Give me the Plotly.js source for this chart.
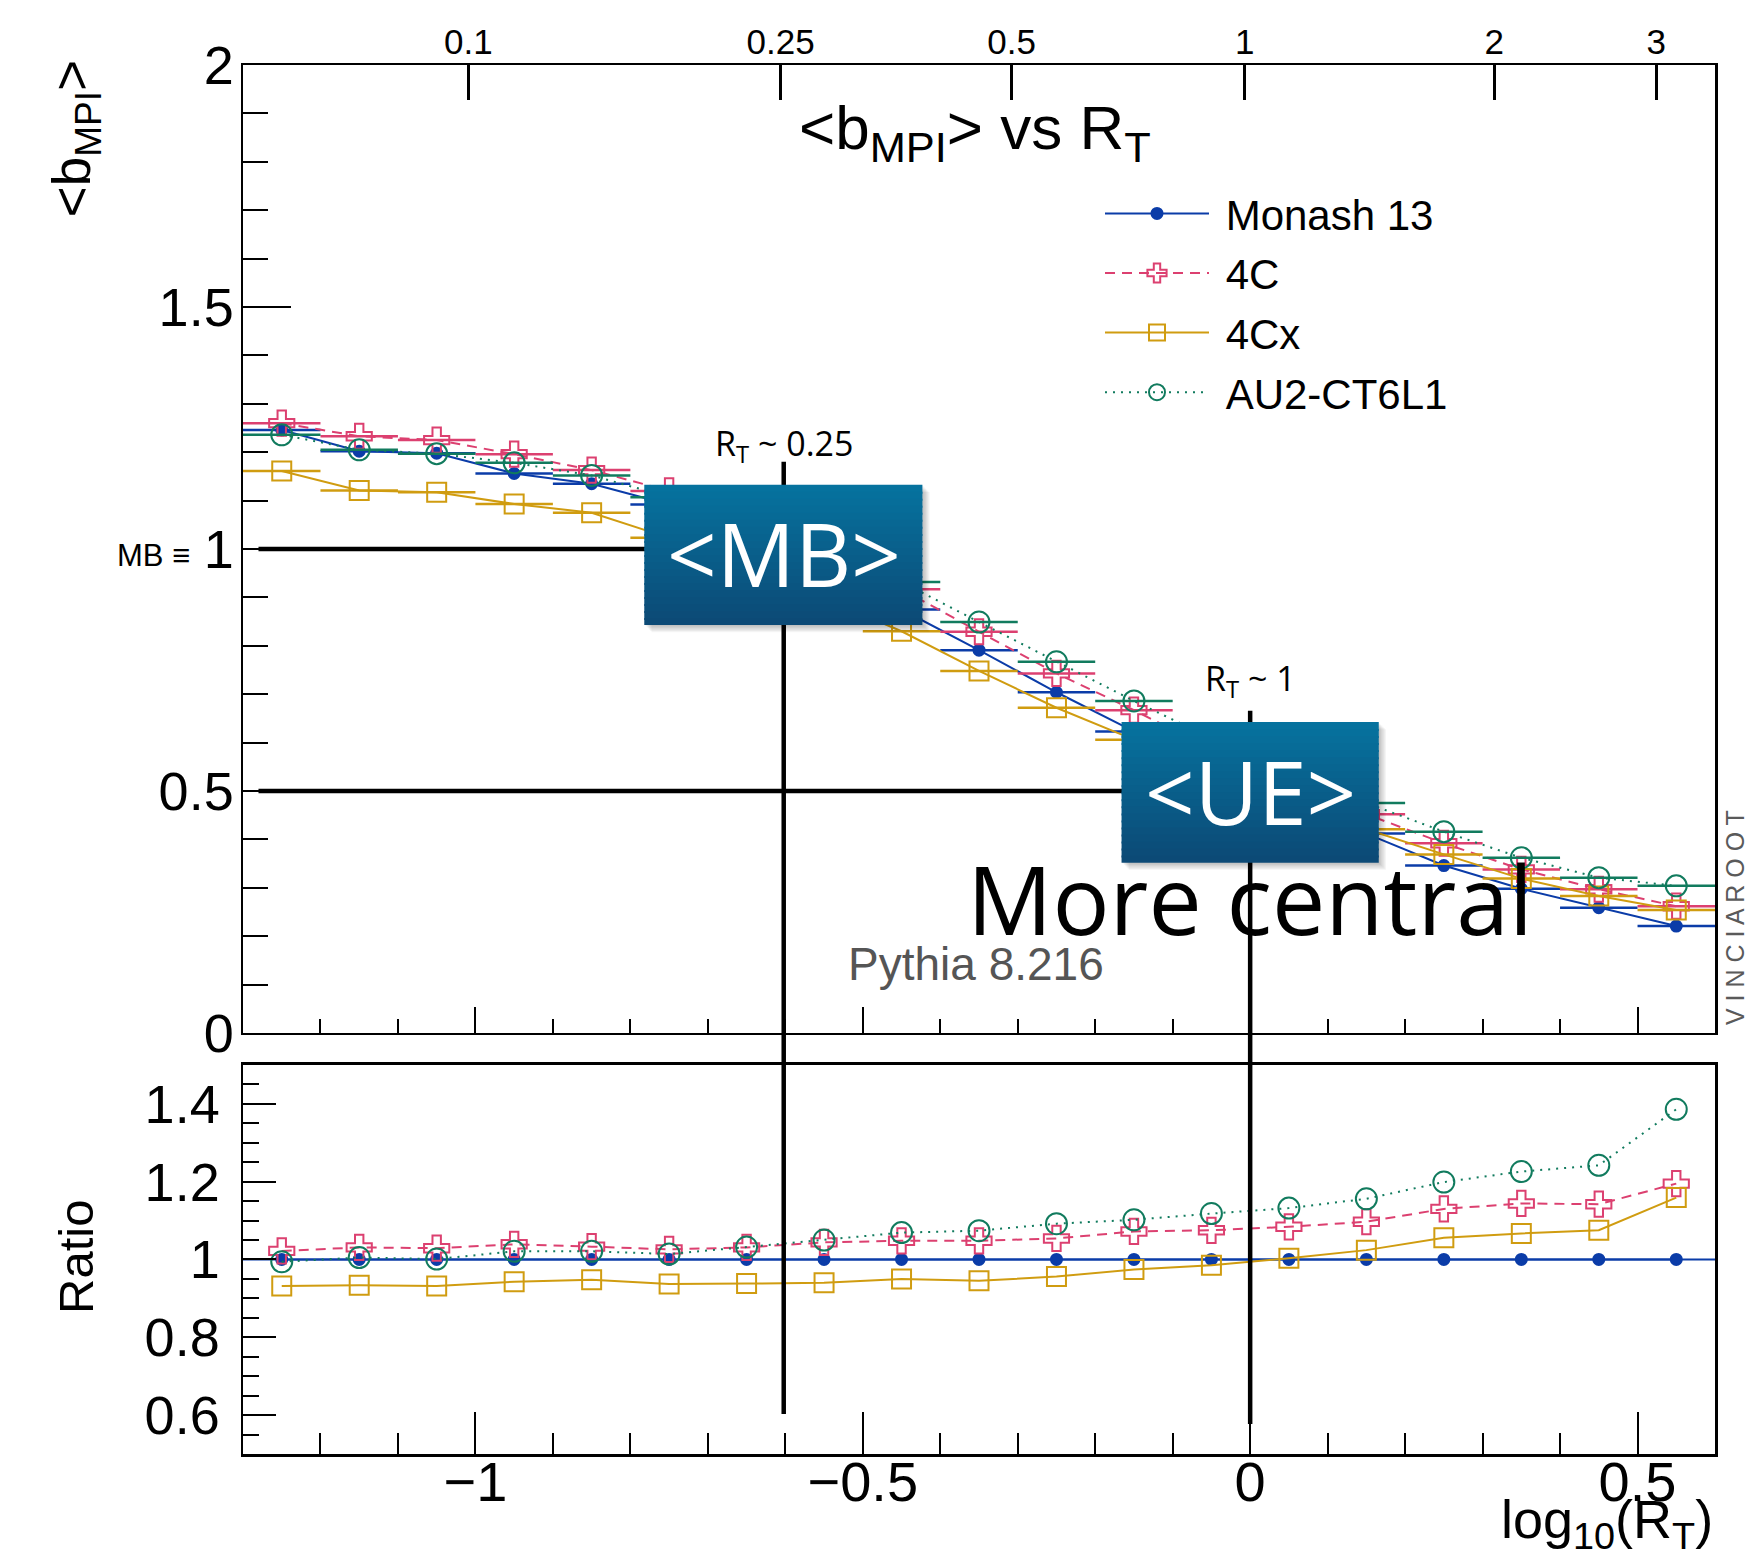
<!DOCTYPE html>
<html>
<head>
<meta charset="utf-8">
<script src="https://cdn.plot.ly/plotly-3.0.1.min.js"></script>
<style>
  html, body { margin: 0; padding: 0; background: #ffffff; }
  #chart { width: 1763px; height: 1556px; }
</style>
</head>
<body>
<div id="chart"></div>
<script>
// ---------------- data ----------------
const rtBinCenters = [-1.25, -1.15, -1.05, -0.95, -0.85, -0.75, -0.65, -0.55, -0.45, -0.35,
                      -0.25, -0.15, -0.05, 0.05, 0.15, 0.25, 0.35, 0.45, 0.55];
const binHalfWidth = 0.05;

const bMonash = [1.246, 1.202, 1.198, 1.156, 1.135, 1.092, 1.030, 0.955, 0.875, 0.791,
                 0.704, 0.623, 0.545, 0.475, 0.412, 0.346, 0.298, 0.259, 0.221];
const b4C     = [1.260, 1.233, 1.225, 1.196, 1.163, 1.120, 1.062, 0.997, 0.917, 0.829,
                 0.743, 0.667, 0.586, 0.515, 0.452, 0.392, 0.338, 0.297, 0.262];
const b4Cx    = [1.161, 1.121, 1.117, 1.093, 1.075, 1.023, 0.966, 0.898, 0.830, 0.748,
                 0.672, 0.606, 0.537, 0.476, 0.421, 0.369, 0.319, 0.283, 0.254];
const bAU2    = [1.236, 1.205, 1.197, 1.178, 1.152, 1.107, 1.063, 1.003, 0.932, 0.849,
                 0.767, 0.686, 0.609, 0.538, 0.475, 0.416, 0.362, 0.321, 0.304];

const ratioMonash = [1, 1, 1, 1, 1, 1, 1, 1, 1, 1, 1, 1, 1, 1, 1, 1, 1, 1, 1];
const ratio4C     = [1.022, 1.031, 1.029, 1.039, 1.033, 1.026, 1.031, 1.044, 1.048, 1.048,
                     1.054, 1.072, 1.075, 1.084, 1.097, 1.130, 1.144, 1.142, 1.195];
const ratio4Cx    = [0.932, 0.934, 0.932, 0.943, 0.948, 0.937, 0.938, 0.940, 0.950, 0.945,
                     0.956, 0.974, 0.985, 1.003, 1.024, 1.056, 1.067, 1.075, 1.159];
const ratioAU2    = [0.994, 1.005, 1.001, 1.021, 1.021, 1.014, 1.032, 1.050, 1.069, 1.074,
                     1.092, 1.102, 1.118, 1.132, 1.156, 1.199, 1.226, 1.242, 1.386];

const seriesNames = ['Monash 13', '4C', '4Cx', 'AU2-CT6L1'];

// secondary (top) axis: R_T labels and where they sit on the log10(R_T) axis
const topTickLabels = ['0.1', '0.25', '0.5', '1', '2', '3'];
const topTickPos    = [-1.009, -0.606, -0.308, -0.007, 0.315, 0.524];

// reference R_T values marked with vertical lines
const refRT = [0.25, 1];

// ---------------- styling ----------------
const FONT = 'Liberation Sans, Arial, Helvetica, sans-serif';
const SOFT = 'Open Sans, Noto Sans, sans-serif';
const cBlue = '#0b3ca8', cPink = '#dc4070', cGold = '#d09c10', cGreen = '#117b5e';

const xRange = [-1.3, 0.6];
const yRangeTop = [0, 2];
const yRangeRatio = [0.5, 1.5];
const W = 1763, H = 1556;
const M = {l: 243, r: 48, t: 65, b: 102};
const plotW = W - M.l - M.r, plotH = H - M.t - M.b;
const topDomain = [0.3031, 1], ratioDomain = [0, 0.2801];

const styles = [
  {color: cBlue, dash: 'solid', symbol: 'circle', size: 11, group: 'g1'},
  {color: cPink, dash: '10px,7px', symbol: 'cross-open', size: 21, group: 'g2'},
  {color: cGold, dash: 'solid', symbol: 'square-open', size: 19, group: 'g3'},
  {color: cGreen, dash: '2px,6px', symbol: 'circle-open', size: 21, group: 'g4'}
];
const topSeries = [bMonash, b4C, b4Cx, bAU2];
const ratioSeries = [ratioMonash, ratio4C, ratio4Cx, ratioAU2];

const traces = [];
topSeries.forEach((ys, i) => {
  const s = styles[i];
  traces.push({
    type: 'scatter', mode: 'lines+markers', name: '\u00A0' + seriesNames[i],
    x: rtBinCenters, y: ys, xaxis: 'x', yaxis: 'y',
    legendgroup: s.group,
    line: {color: s.color, width: 2, dash: s.dash},
    marker: {symbol: s.symbol, size: s.size, color: s.color, line: {color: s.color, width: 2}},
    error_x: {type: 'constant', value: binHalfWidth, width: 0, thickness: 2.5, color: s.color},
    hoverinfo: 'x+y+name'
  });
});
ratioSeries.forEach((ys, i) => {
  const s = styles[i];
  traces.push({
    type: 'scatter', mode: 'lines+markers', name: seriesNames[i],
    x: rtBinCenters, y: ys, xaxis: 'x2', yaxis: 'y2',
    legendgroup: s.group, showlegend: false,
    line: {color: s.color, width: 2, dash: s.dash},
    marker: {symbol: s.symbol, size: s.size, color: s.color, line: {color: s.color, width: 2}},
    hoverinfo: 'x+y+name'
  });
});
// empty trace so the top (R_T) axis is drawn
traces.push({type: 'scatter', x: [], y: [], xaxis: 'x3', yaxis: 'y', showlegend: false, hoverinfo: 'skip'});

// ---------------- shapes ----------------
const xPerPx = (xRange[1] - xRange[0]) / plotW;
const yPerPx = (yRangeTop[1] - yRangeTop[0]) / (plotH * (topDomain[1] - topDomain[0]));
const refX = refRT.map(v => Math.log10(v));

const shapes = [];
// unit line in the ratio pad
shapes.push({type: 'line', xref: 'x2 domain', yref: 'y2', x0: 0, x1: 1, y0: 1, y1: 1,
             line: {color: cBlue, width: 2}, layer: 'below'});
// black guide lines
shapes.push({type: 'line', xref: 'x', yref: 'y', x0: -1.28, x1: refX[0], y0: 1, y1: 1,
             line: {color: '#000', width: 4.5}, layer: 'above'});
shapes.push({type: 'line', xref: 'x', yref: 'y', x0: -1.28, x1: refX[1], y0: 0.5, y1: 0.5,
             line: {color: '#000', width: 4.5}, layer: 'above'});
shapes.push({type: 'line', xref: 'x', yref: 'paper', x0: refX[0], x1: refX[0], y0: 0.0288, y1: 0.7144,
             line: {color: '#000', width: 4.5}, layer: 'above'});
shapes.push({type: 'line', xref: 'x', yref: 'paper', x0: refX[1], x1: refX[1], y0: 0.0216, y1: 0.5351,
             line: {color: '#000', width: 4.5}, layer: 'above'});

// gradient label boxes
function labelBox(cx, halfW, yTop, yBot) {
  const x0 = cx - halfW, x1 = cx + halfW;
  for (let k = 1; k <= 6; k++) {
    shapes.push({type: 'rect', xref: 'x', yref: 'y', layer: 'above',
      x0: x0 + k * 1.2 * xPerPx, x1: x1 + k * 1.2 * xPerPx,
      y0: yBot - k * 1.2 * yPerPx, y1: yTop - k * 1.2 * yPerPx,
      fillcolor: 'rgba(0,0,0,0.045)', line: {width: 0}});
  }
  const n = 20, top = [6, 114, 158], bot = [12, 74, 118];
  for (let i = 0; i < n; i++) {
    const t = i / (n - 1);
    const c = top.map((v, j) => Math.round(v + (bot[j] - v) * t));
    const ya = yTop - (yTop - yBot) * i / n;
    const yb = (i === n - 1) ? yBot : yTop - (yTop - yBot) * (i + 1) / n - 2 * yPerPx;
    shapes.push({type: 'rect', xref: 'x', yref: 'y', layer: 'above',
      x0: x0, x1: x1, y0: yb, y1: ya,
      fillcolor: 'rgb(' + c.join(',') + ')', line: {width: 0}});
  }
}
labelBox(refX[0] - 0.0005, 0.1795, 1.1326, 0.843);
labelBox(refX[1], 0.166, 0.6426, 0.352);

// ---------------- annotations ----------------
const annotations = [
  {text: '&lt;b<sub>MPI</sub>&gt; vs R<sub>T</sub>', xref: 'paper', yref: 'paper', x: 0.4973, y: 0.9518,
   xanchor: 'center', yanchor: 'middle', showarrow: false, font: {family: FONT, size: 62, color: '#000'}},
  {text: '&lt;b<sub>MPI</sub>&gt;', xref: 'paper', yref: 'paper', x: -0.114, y: 0.9467, textangle: -90,
   xanchor: 'center', yanchor: 'middle', showarrow: false, font: {family: FONT, size: 53, color: '#000'}},
  {text: 'Ratio', xref: 'paper', yref: 'paper', x: -0.1135, y: 0.1418, textangle: -90,
   xanchor: 'center', yanchor: 'middle', showarrow: false, font: {family: FONT, size: 49, color: '#000'}},
  {text: 'log<sub>10</sub>(R<sub>T</sub>)', xref: 'paper', yref: 'paper', x: 1.0, y: -0.0235,
   xanchor: 'right', yanchor: 'top', showarrow: false, font: {family: FONT, size: 54, color: '#000'}},
  {text: 'MB ≡', xref: 'paper', yref: 'y', x: -0.0346, y: 1, yshift: -6,
   xanchor: 'right', yanchor: 'middle', showarrow: false, font: {family: FONT, size: 31, color: '#000'}},
  {text: 'R<sub>T</sub> ~ 0.25', xref: 'x', yref: 'y', x: refX[0], y: 1.214,
   xanchor: 'center', yanchor: 'middle', showarrow: false, font: {family: SOFT, size: 34, color: '#000'}},
  {text: 'R<sub>T</sub> ~ 1', xref: 'x', yref: 'y', x: refX[1], y: 0.729,
   xanchor: 'center', yanchor: 'middle', showarrow: false, font: {family: SOFT, size: 34, color: '#000'}},
  {text: '&lt;MB&gt;', xref: 'x', yref: 'y', x: refX[0], y: 0.992,
   xanchor: 'center', yanchor: 'middle', showarrow: false, font: {family: SOFT, size: 87, color: '#ffffff'}},
  {text: '&lt;UE&gt;', xref: 'x', yref: 'y', x: refX[1], y: 0.499,
   xanchor: 'center', yanchor: 'middle', showarrow: false, font: {family: SOFT, size: 87, color: '#ffffff'}},
  {text: 'More central', xref: 'x', yref: 'y', x: 0.0, y: 0.278,
   xanchor: 'center', yanchor: 'middle', showarrow: false, font: {family: SOFT, size: 95, color: '#000'}},
  {text: 'Pythia 8.216', xref: 'x', yref: 'y', x: -0.354, y: 0.142,
   xanchor: 'center', yanchor: 'middle', showarrow: false, font: {family: FONT, size: 46, color: '#555555'}},
  {text: 'V I N C I A R O O T', xref: 'paper', yref: 'paper', x: 1.0136, y: 0.3859, textangle: -90,
   xanchor: 'center', yanchor: 'middle', showarrow: false, font: {family: FONT, size: 25, color: '#5a5a5a'}}
];

// ---------------- axes ----------------
const frame = {showline: true, linecolor: '#000', linewidth: 2.5, mirror: true, showgrid: false, zeroline: false};

const layout = {
  width: W, height: H,
  margin: M,
  paper_bgcolor: '#ffffff', plot_bgcolor: '#ffffff',
  font: {family: FONT, color: '#000'},
  showlegend: true,
  legend: {x: 0.5822, y: 0.9175, xanchor: 'left', yanchor: 'top', traceorder: 'grouped',
           tracegroupgap: 2, itemwidth: 104, bgcolor: 'rgba(0,0,0,0)', borderwidth: 0,
           font: {family: FONT, size: 42, color: '#000'}},
  xaxis: Object.assign({}, frame, {
    domain: [0, 1], anchor: 'y', range: xRange, showticklabels: false,
    ticks: 'inside', tick0: 0, dtick: 0.5, ticklen: 26, tickwidth: 2, tickcolor: '#000',
    minor: {ticks: 'inside', dtick: 0.1, ticklen: 14, tickwidth: 2, tickcolor: '#000'}
  }),
  yaxis: Object.assign({}, frame, {
    domain: topDomain, anchor: 'x', range: yRangeTop,
    ticks: 'inside', tick0: 0, dtick: 0.5, ticklen: 48, tickwidth: 2, tickcolor: '#000',
    minor: {ticks: 'inside', dtick: 0.1, ticklen: 25, tickwidth: 2, tickcolor: '#000'},
    tickfont: {family: FONT, size: 54, color: '#000'}, ticklabelstandoff: -4
  }),
  xaxis2: Object.assign({}, frame, {
    domain: [0, 1], anchor: 'y2', range: xRange,
    ticks: 'inside', tick0: 0, dtick: 0.5, ticklen: 42, tickwidth: 2, tickcolor: '#000',
    minor: {ticks: 'inside', dtick: 0.1, ticklen: 21, tickwidth: 2, tickcolor: '#000'},
    tickfont: {family: FONT, size: 56, color: '#000'}, ticklabelstandoff: -23
  }),
  yaxis2: Object.assign({}, frame, {
    domain: ratioDomain, anchor: 'x2', range: yRangeRatio,
    ticks: 'inside', tick0: 0, dtick: 0.2, ticklen: 33, tickwidth: 2, tickcolor: '#000',
    minor: {ticks: 'inside', dtick: 0.05, ticklen: 16, tickwidth: 2, tickcolor: '#000'},
    tickfont: {family: FONT, size: 54, color: '#000'}, ticklabelstandoff: 10
  }),
  xaxis3: {
    overlaying: 'x', anchor: 'y', side: 'top', range: xRange,
    tickmode: 'array', tickvals: topTickPos, ticktext: topTickLabels,
    ticks: 'inside', ticklen: 35, tickwidth: 3, tickcolor: '#000',
    showline: false, showgrid: false, zeroline: false,
    tickfont: {family: FONT, size: 35, color: '#000'}, ticklabelstandoff: 3
  },
  shapes: shapes,
  annotations: annotations
};

Plotly.newPlot('chart', traces, layout, {displayModeBar: false, staticPlot: true});
</script>
</body>
</html>
